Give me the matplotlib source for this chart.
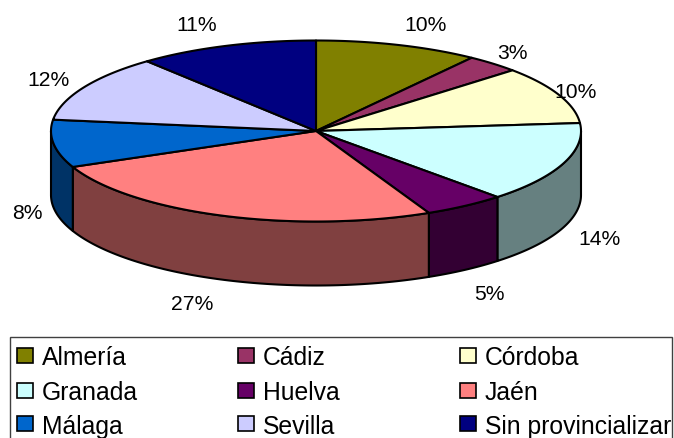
import numpy as np
import matplotlib
matplotlib.use("Agg")
import matplotlib.pyplot as plt
from matplotlib.patches import Polygon, Rectangle

plt.rcParams['font.family'] = ['Liberation Sans', 'DejaVu Sans']

categories = ["Almería", "Cádiz", "Córdoba", "Granada", "Huelva", "Jaén",
              "Málaga", "Sevilla", "Sin provincializar"]
# wedge sizes (the tilt shifts them a little from the printed labels)
values = [10.0, 3.3, 10.3, 14.4, 5.0, 25.5, 8.5, 12.0, 11.0]
percent_labels = ["10%", "3%", "10%", "14%", "5%", "27%", "8%", "12%", "11%"]
colors = ["#808000", "#993366", "#FFFFCC", "#CCFFFF", "#660066", "#FF8080",
          "#0066CC", "#CCCCFF", "#000080"]

# label nudges in pixels (right, down) from the wedge's rim midpoint
nudges = [(28, -20.5), (19, -11), (17, -3), (35.5, 11), (24, 24),
          (-30.5, 24), (-26.5, 4.7), (-35, -8), (-30, -21.3)]

CX, CY, RX, RY, DEPTH = 316, 132, 265, 90.5, 64
EDGE = dict(edgecolor="black", linewidth=1.5, joinstyle="round")


def rim(t):
    return CX + RX * np.sin(t), CY - RY * np.cos(t)


def darker(c):
    return tuple(v * 0.5 for v in matplotlib.colors.to_rgb(c))


fig = plt.figure(figsize=(6.74, 4.39), dpi=100)
ax = fig.add_axes([0, 0, 1, 1])
ax.set_xlim(0, 674)
ax.set_ylim(439, 0)
ax.axis("off")

fractions = np.array(values) / sum(values)
edges = np.concatenate([[0], np.cumsum(fractions)]) * 2 * np.pi

# sides
for a, b, c in zip(edges[:-1], edges[1:], colors):
    lo, hi = max(a, np.pi / 2), min(b, 3 * np.pi / 2)
    if hi <= lo:
        continue
    t = np.linspace(lo, hi, 100)
    x, y = rim(t)
    pts = np.r_[np.c_[x, y], np.c_[x[::-1], y[::-1] + DEPTH]]
    ax.add_patch(Polygon(pts, closed=True, facecolor=darker(c), **EDGE))

# top faces
for a, b, c in zip(edges[:-1], edges[1:], colors):
    t = np.linspace(a, b, 150)
    x, y = rim(t)
    pts = np.r_[[[CX, CY]], np.c_[x, y]]
    ax.add_patch(Polygon(pts, closed=True, facecolor=c, **EDGE))

# percentage labels
for a, b, lab, (dx, dy) in zip(edges[:-1], edges[1:], percent_labels, nudges):
    mid = (a + b) / 2
    x, y = rim(mid)
    if np.cos(mid) < 0:
        y += DEPTH
    ax.annotate(lab, (x, y), xytext=(dx, -dy), textcoords="offset pixels",
                ha="center", va="center", fontsize=15.2, color="black")

# legend
ax.add_patch(Rectangle((9.5, 338), 662, 110, facecolor="white",
                       edgecolor="#404040", linewidth=1.0, clip_on=True))
col_x = [16.5, 238, 460]
row_y = [356, 391, 425]
for i, (name, c) in enumerate(zip(categories, colors)):
    x0, y0 = col_x[i % 3], row_y[i // 3]
    ax.add_patch(Rectangle((x0, y0 - 7.5), 16, 15, facecolor=c,
                           edgecolor="black", linewidth=1.2))
    ax.text(x0 + 25, y0, name, ha="left", va="center_baseline", fontsize=17.8, color="black")

fig.savefig("out.png", dpi=100)
